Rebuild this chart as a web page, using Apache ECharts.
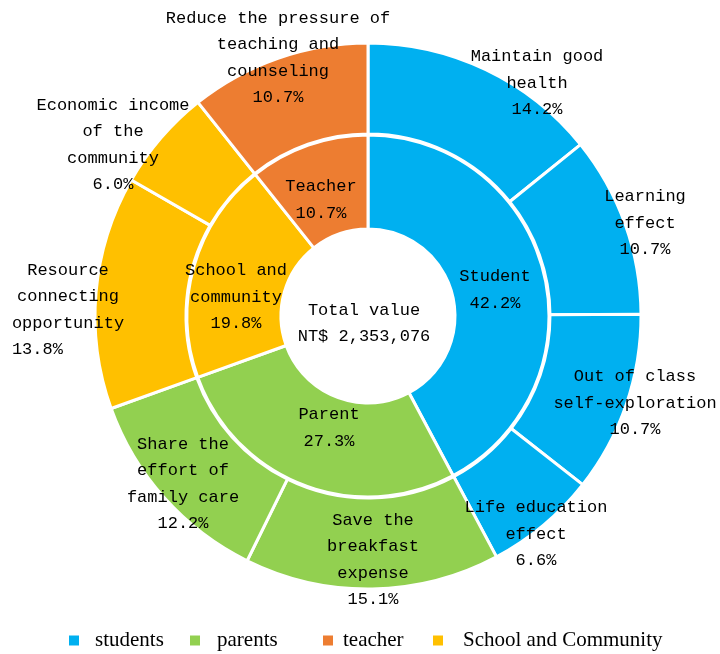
<!DOCTYPE html>
<html>
<head>
<meta charset="utf-8">
<script src="https://cdn.jsdelivr.net/npm/echarts@6/dist/echarts.min.js"></script>
<style>html,body{margin:0;padding:0;background:#fff;}#main{width:720px;height:654px;}</style>
</head>
<body>
<div id="main"></div>
<script>
// Inner ring: stakeholder groups
const groupNames = ['Student', 'Parent', 'School and\ncommunity', 'Teacher'];
const groupValues = [42.2, 27.3, 19.8, 10.7];
const legendNames = ['students', 'parents', 'teacher', 'School and Community'];

// Outer ring: benefits
const benefitNames = [
  'Maintain good\nhealth',
  'Learning\neffect',
  'Out of class\nself-exploration',
  'Life education\neffect',
  'Save the\nbreakfast\nexpense',
  'Share the\neffort of\nfamily care',
  'Resource\nconnecting\nopportunity',
  'Economic income\nof the\ncommunity',
  'Reduce the pressure of\nteaching and\ncounseling'
];
const benefitValues = [14.2, 10.7, 10.7, 6.6, 15.1, 12.2, 13.8, 6.0, 10.7];
const benefitGroup = [0, 0, 0, 0, 1, 1, 2, 2, 3];

const centerText = 'Total value\nNT$ 2,353,076';

// styles / layout (kept separate from data)
const groupColors = ['#00B0F0', '#92D050', '#FFC000', '#ED7D31'];
const innerLabelPos = [[495, 290], [329, 428], [236, 297], [321, 200]];
const outerLabelPos = [[537, 83], [645, 223], [635, 403], [536, 534], [373, 560], [183, 484], [68, 310], [113, 145], [278, 58]];
const pctPad = {6: '\u00a0\u00a0\u00a0\u00a0\u00a0\u00a0'};
const FONT = '"Liberation Mono", "DejaVu Sans Mono", monospace';

const chart = echarts.init(document.getElementById('main'), null, {renderer: 'canvas'});

const innerData = groupNames.map((n, i) => ({
  name: n, value: groupValues[i], itemStyle: {color: groupColors[i]}
}));
const outerData = benefitNames.map((n, i) => ({
  name: n, value: benefitValues[i], itemStyle: {color: groupColors[benefitGroup[i]]}
}));

const labelCommon = {
  show: true, position: 'inside', rotate: 0,
  color: '#000', fontFamily: FONT, fontSize: 17, lineHeight: 26.5, align: 'center'
};

// legend: one component per item to match irregular spacing
const legendLeft = [67, 188, 321, 431];
const legendTextPad = [10, 11, 4, 14];
const legendOrder = [0, 1, 3, 2]; // students, parents, teacher, school
const legends = legendOrder.map((gi, k) => ({
  data: [groupNames[gi]],
  left: legendLeft[k], top: 630, padding: 0,
  icon: 'rect', itemWidth: 12, itemHeight: 12,
  selectedMode: false,
  formatter: () => legendNames[k],
  textStyle: {fontFamily: '"Liberation Serif", "Times New Roman", serif', fontSize: 21, color: '#000', padding: [0, 0, 0, legendTextPad[k]]}
}));

chart.setOption({
  animation: false,
  legend: legends,
  graphic: [{
    type: 'text', x: 364, y: 323,
    style: {text: centerText, font: '17px ' + FONT, fill: '#000', textAlign: 'center', textVerticalAlign: 'middle', lineHeight: 26}
  }],
  series: [
    {
      type: 'pie', name: 'groups', center: [368, 316], radius: [87, 181],
      startAngle: 90, clockwise: true, avoidLabelOverlap: false, silent: true,
      itemStyle: {borderColor: '#fff', borderWidth: 3},
      label: Object.assign({}, labelCommon, {
        formatter: p => p.name + '\n' + p.value.toFixed(1) + '%'
      }),
      labelLine: {show: false},
      labelLayout: p => ({x: innerLabelPos[p.dataIndex][0], y: innerLabelPos[p.dataIndex][1], align: 'center', verticalAlign: 'middle'}),
      emphasis: {disabled: true},
      data: innerData
    },
    {
      type: 'pie', name: 'benefits', center: [368, 316], radius: [182, 273],
      startAngle: 90, clockwise: true, avoidLabelOverlap: false, silent: true,
      itemStyle: {borderColor: '#fff', borderWidth: 3},
      label: Object.assign({}, labelCommon, {
        formatter: p => p.name + '\n' + p.value.toFixed(1) + '%' + (pctPad[p.dataIndex] || '')
      }),
      labelLine: {show: false},
      labelLayout: p => ({x: outerLabelPos[p.dataIndex][0], y: outerLabelPos[p.dataIndex][1], align: 'center', verticalAlign: 'middle'}),
      emphasis: {disabled: true},
      data: outerData
    }
  ]
});
</script>
</body>
</html>
